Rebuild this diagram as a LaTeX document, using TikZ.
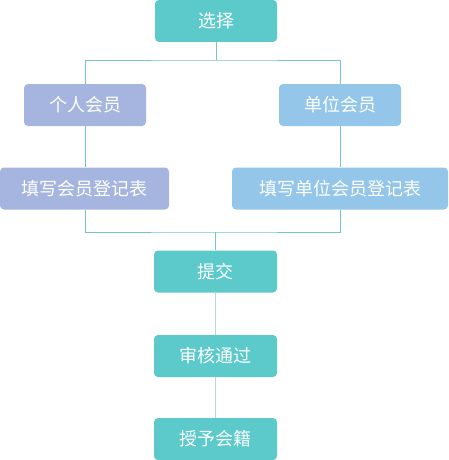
\documentclass[tikz,border=0pt]{standalone}
\usepackage{fontspec}
\newfontfamily\cjk{Noto Sans CJK SC}
\definecolor{teal}{HTML}{5CC9CA}
\definecolor{lilac}{HTML}{A5B5E0}
\definecolor{sky}{HTML}{93C6E9}
\definecolor{tealline}{HTML}{74C6C6}
\definecolor{greyline}{HTML}{B9D7D8}
\tikzset{
  box/.style={rounded corners=4pt,text=white,minimum height=42pt,inner sep=0pt,
    font=\cjk\fontsize{18}{18}\selectfont},
  link/.style={tealline,line width=0.9pt},
  plainlink/.style={greyline,line width=0.9pt}
}
\begin{document}
\begin{tikzpicture}[x=1pt,y=-1pt]
  \useasboundingbox (0,0) rectangle (448,460);
  \node[box,fill=teal,minimum width=122pt] (sel) at (216,21) {选择};
  \node[box,fill=lilac,minimum width=122pt] (pers) at (85,105) {个人会员};
  \node[box,fill=sky,minimum width=122pt] (unit) at (340,105) {单位会员};
  \node[box,fill=lilac,minimum width=169pt] (pform) at (84.5,188.5) {填写会员登记表};
  \node[box,fill=sky,minimum width=216pt] (uform) at (340,188.5) {填写单位会员登记表};
  \node[box,fill=teal,minimum width=123pt] (sub) at (215.5,271.5) {提交};
  \node[box,fill=teal,minimum width=123pt] (pass) at (215.5,356) {审核通过};
  \node[box,fill=teal,minimum width=123pt] (grant) at (215.5,439) {授予会籍};
  \coordinate (top) at (sel.south |- 0,60);
  \coordinate (bot) at (sub.north |- 0,232);
  \draw[link] (sel.south) -- (top);
  \draw[link] (pers.north) |- (top) -| (unit.north);
  \draw[link] (pers.south) -- (pers.south |- pform.north);
  \draw[link] (unit.south) -- (unit.south |- uform.north);
  \draw[link] (pers.south |- pform.south) |- (bot) -| (unit.south |- uform.south);
  \draw[link] (bot) -- (sub.north);
  \draw[plainlink] (sub) -- (pass);
  \draw[plainlink] (pass) -- (grant);
\end{tikzpicture}
\end{document}
